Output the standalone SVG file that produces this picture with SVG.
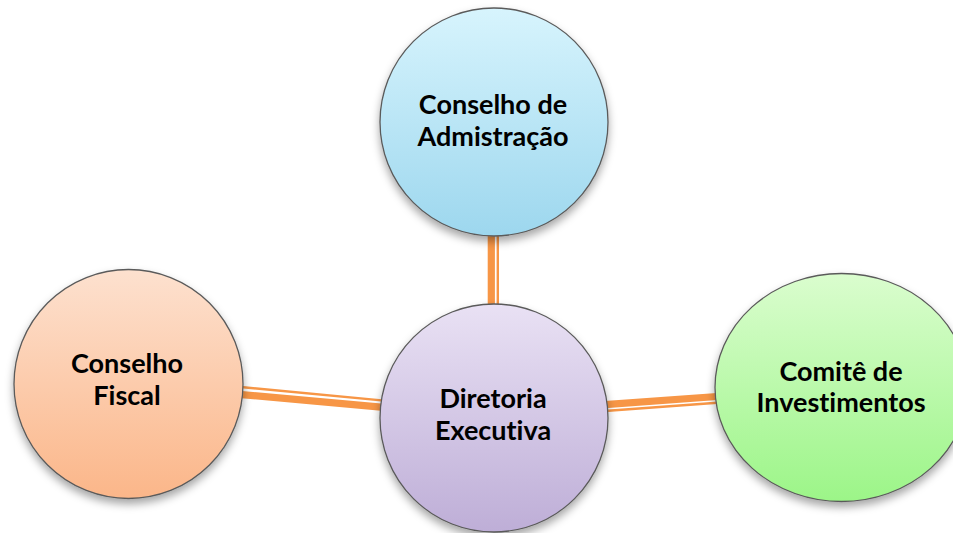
<svg xmlns="http://www.w3.org/2000/svg" width="953" height="533" viewBox="0 0 953 533">
<defs>
<linearGradient id="gBlue" x1="0" y1="0" x2="0" y2="1"><stop offset="0" stop-color="#D7F4FD"/><stop offset="1" stop-color="#9DD7EE"/></linearGradient>
<linearGradient id="gPeach" x1="0" y1="0" x2="0" y2="1"><stop offset="0" stop-color="#FDE1CF"/><stop offset="1" stop-color="#FBB689"/></linearGradient>
<linearGradient id="gPurple" x1="0" y1="0" x2="0" y2="1"><stop offset="0" stop-color="#E9E1F4"/><stop offset="1" stop-color="#BEAED7"/></linearGradient>
<linearGradient id="gGreen" x1="0" y1="0" x2="0" y2="1"><stop offset="0" stop-color="#DAFDCE"/><stop offset="1" stop-color="#9CF588"/></linearGradient>
<filter id="shadow" x="-20%" y="-20%" width="140%" height="150%"><feDropShadow dx="0" dy="5" stdDeviation="4" flood-color="#000" flood-opacity="0.35"/></filter>
</defs>
<style>
.node{stroke:#5a5a5a;stroke-width:1.3;filter:url(#shadow)}
.lbl{font-family:Lato,"Open Sans","Liberation Sans",sans-serif;font-weight:bold;font-size:27px;fill:#000;text-anchor:middle;font-variant-ligatures:none;font-feature-settings:"liga" 0,"clig" 0}
.thick{stroke:#F79646;stroke-width:7.2;fill:none}
.thin{stroke:#F79646;stroke-width:2.4;fill:none}
</style>
<g id="connectors">
<line class="thick" x1="491.3" y1="222" x2="491.3" y2="312"/>
<line class="thin" x1="497.8" y1="222" x2="497.8" y2="312"/>
<line class="thin" x1="233" y1="386.3" x2="392" y2="401.4"/>
<line class="thick" x1="233" y1="393.8" x2="392" y2="408.1"/>
<line class="thick" x1="598" y1="405.1" x2="724" y2="396"/>
<line class="thin" x1="598" y1="411.5" x2="724" y2="402.2"/>
</g>
<g id="conselho-admin">
<circle class="node" cx="494" cy="122" r="114" fill="url(#gBlue)"/>
<text class="lbl" x="493" y="114">Conselho de</text>
<text class="lbl" x="493" y="146">Admistração</text>
</g>
<g id="conselho-fiscal">
<circle class="node" cx="128.5" cy="384" r="114.5" fill="url(#gPeach)"/>
<text class="lbl" x="127" y="373">Conselho</text>
<text class="lbl" x="127" y="405">Fiscal</text>
</g>
<g id="diretoria">
<circle class="node" cx="494" cy="418" r="114" fill="url(#gPurple)"/>
<text class="lbl" x="493" y="408">Diretoria</text>
<text class="lbl" x="493" y="440">Executiva</text>
</g>
<g id="comite">
<ellipse class="node" cx="841.5" cy="387.5" rx="126.5" ry="114" fill="url(#gGreen)"/>
<text class="lbl" x="841" y="381">Comitê de</text>
<text class="lbl" x="841" y="412">Investimentos</text>
</g>
</svg>
